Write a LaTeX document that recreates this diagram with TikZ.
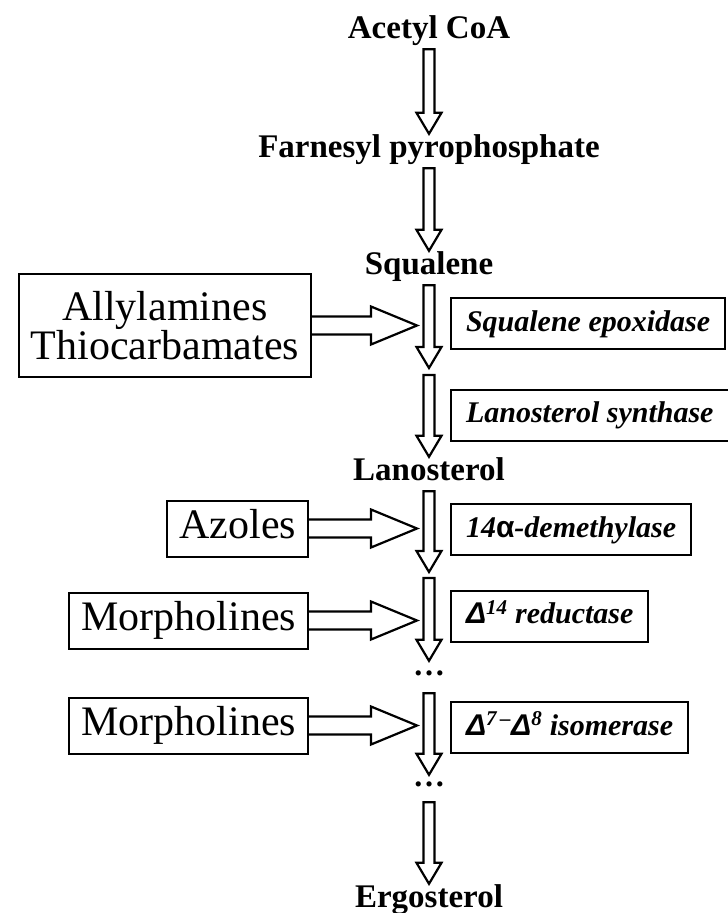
\documentclass[tikz,border=0pt]{standalone}
\usepackage{fontspec}
\setmainfont{Liberation Serif}
\newfontfamily\greeksans{Liberation Sans}
\usetikzlibrary{calc}

\tikzset{
    metab/.style={font=\fontsize{33}{36}\selectfont\bfseries, inner sep=0pt,
        text height=23pt, text depth=11pt, anchor=base},
    drugbox/.style={draw, line width=2pt, font=\fontsize{42}{38}\selectfont,
        inner xsep=12pt, anchor=east, align=center},
    drug/.style={drugbox, minimum height=56pt, text height=29pt, text depth=9pt},
    enzyme/.style={draw, line width=2pt, font=\fontsize{30}{36}\selectfont\bfseries\itshape,
        inner xsep=15pt, inner ysep=0pt, minimum height=51pt,
        text height=21pt, text depth=6pt, anchor=west},
    ellip/.style={font=\fontsize{32}{36}\selectfont\bfseries, inner sep=0pt,
        text depth=8pt, minimum height=#1},
    blockdown/.style={line width=2.2pt, to path={let \p1=(\tikztostart), \p2=(\tikztotarget) in
        (\x1-5.5pt,\y1) -- (\x1-5.5pt,\y2+21pt) -- (\x1-12.5pt,\y2+21pt) -- (\x1,\y2)
        -- (\x1+12.5pt,\y2+21pt) -- (\x1+5.5pt,\y2+21pt) -- (\x1+5.5pt,\y1) -- cycle}},
    blockright/.style={line width=2.2pt, to path={let \p1=(\tikztostart), \p2=(\tikztotarget) in
        (\x1,\y1+9pt) -- (\x2-46pt,\y1+9pt) -- (\x2-46pt,\y1+19pt) -- (\x2,\y1)
        -- (\x2-46pt,\y1-19pt) -- (\x2-46pt,\y1-9pt) -- (\x1,\y1-9pt)}}
}

\begin{document}
\begin{tikzpicture}[x=1pt, y=-1pt]
    \useasboundingbox (0,0) rectangle (728,913);

    % Pathway
    \node[metab] (acetyl) at (429,38) {Acetyl CoA};
    \node[metab] (farnesyl) at (429,157) {Farnesyl pyrophosphate};
    \node[metab] (squalene) at (429,274) {Squalene};
    \node[metab] (lanosterol) at (429,480) {Lanosterol};
    \node[ellip=32pt] (dots1) at (429,677) {\ldots};
    \node[ellip=27pt] (dots2) at (429,788.5) {\ldots};
    \node[metab] (ergosterol) at (429,907) {Ergosterol};

    % Enzymes
    \node[enzyme] (epox) at (450,323.5) {Squalene epoxidase};
    \node[enzyme] (lss) at (450,415) {Lanosterol synthase};
    \node[enzyme] (demeth) at (450,529.5) {14{\greeksans\upshape α}-demethylase};
    \node[enzyme] (reduct) at (450,616) {{\greeksans Δ}\textsuperscript{14} reductase};
    \node[enzyme] (isomer) at (450,727.5) {{\greeksans Δ}\textsuperscript{7\,–}{\greeksans Δ}\textsuperscript{8} isomerase};

    % Inhibitors
    \node[drugbox, minimum height=103pt] (allyl) at (312,325.5) {Allylamines\\Thiocarbamates};
    \node[drug] (azoles) at (309,528.5) {Azoles};
    \node[drug] (morph1) at (309,620.5) {Morpholines};
    \node[drug] (morph2) at (309,725.5) {Morpholines};

    \coordinate (sq1) at (429,368);
    \coordinate (sq2) at (429,375);
    \coordinate (la1) at (429,572);
    \coordinate (la2) at (429,578);
    \coordinate (hit1) at (417,326);
    \coordinate (hit2) at (417,528);
    \coordinate (hit3) at (417,621);
    \coordinate (hit4) at (417,726);

    \draw[blockdown] (acetyl.south) to (farnesyl.north);
    \draw[blockdown] (farnesyl.south) to (squalene.north);
    \draw[blockdown] (squalene.south) to (sq1);
    \draw[blockdown] (sq2) to (lanosterol.north);
    \draw[blockdown] (lanosterol.south) to (la1);
    \draw[blockdown] (la2) to (dots1.north);
    \draw[blockdown] (dots1.south) to (dots2.north);
    \draw[blockdown] (dots2.south) to (ergosterol.north);

    \draw[blockright] (allyl.east) to (hit1);
    \draw[blockright] (azoles.east) to (hit2);
    \draw[blockright] (morph1.east) to (hit3);
    \draw[blockright] (morph2.east) to (hit4);
\end{tikzpicture}
\end{document}
